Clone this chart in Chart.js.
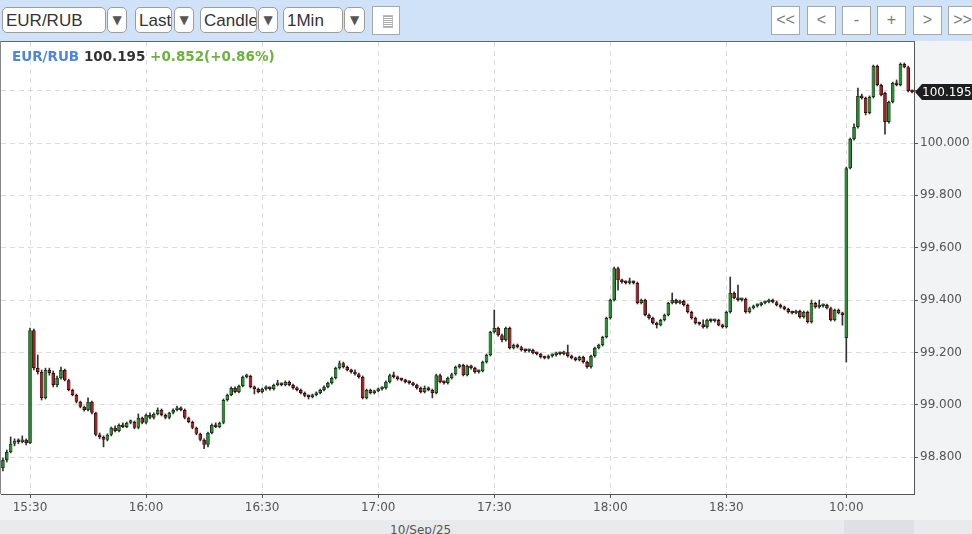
<!DOCTYPE html>
<html>
<head>
<meta charset="utf-8">
<script src="https://cdn.jsdelivr.net/npm/chart.js@4"></script>
<style>
  body { margin: 0; width: 972px; height: 534px; overflow: hidden; background: #f2f3f5; position: relative; font-family: "DejaVu Sans", sans-serif; }
  #toolbar { position: absolute; left: 0; top: 0; width: 972px; height: 41px; background: #d0e2f7; }
  .sel { position: absolute; top: 7px; height: 26px; box-sizing: border-box; border: 1px solid #9c9c9c; border-radius: 5px; background: #fff; font: 17px "Liberation Sans", Arial, sans-serif; line-height: 25px; padding-left: 3px; color: #333; overflow: hidden; white-space: nowrap; }
  .dd { position: absolute; top: 7px; height: 26px; box-sizing: border-box; border: 1px solid #9c9c9c; border-radius: 5px; background: #fff; font-size: 12px; line-height: 25px; text-align: center; color: #555; }
  .btn { position: absolute; top: 6px; width: 29px; height: 29px; box-sizing: border-box; border: 1px solid #a8a8a8; background: #fff; font: 16px "Liberation Sans", Arial, sans-serif; line-height: 26px; text-align: center; color: #777; }
  .icon { position: absolute; left: 10px; top: 8px; width: 8px; height: 11px; background: repeating-linear-gradient(#aaa 0 1px, transparent 1px 2px); border: 1px solid #bbb; }
  #topLine { position: absolute; left: 0; top: 41px; width: 915px; height: 1px; background: #666; }
  #leftLine { position: absolute; left: 0; top: 41px; width: 1px; height: 453px; background: #888; }
  #chart { position: absolute; left: 1px; top: 42px; }
  #title { position: absolute; left: 12px; top: 48px; font: bold 13.5px "DejaVu Sans", sans-serif; line-height: 16px; white-space: nowrap; }
  #bottomStrip { position: absolute; left: 0; top: 520px; width: 972px; height: 14px; background: #e9eaec; }
  #thumb { position: absolute; left: 844px; top: 520px; width: 70px; height: 14px; background: #dfe0e3; }
  #dateLabel { position: absolute; left: 390px; top: 523px; font: 12px "DejaVu Sans", sans-serif; color: #555; }
</style>
</head>
<body>
<div id="toolbar">
  <div class="sel" style="left:2px;width:104px">EUR/RUB</div>
  <div class="dd" style="left:107px;width:20px">▼</div>
  <div class="sel" style="left:135px;width:37px">Last</div>
  <div class="dd" style="left:174px;width:20px">▼</div>
  <div class="sel" style="left:200px;width:57px">Candle</div>
  <div class="dd" style="left:258px;width:20px">▼</div>
  <div class="sel" style="left:283px;width:60px">1Min</div>
  <div class="dd" style="left:344px;width:21px">▼</div>
  <div class="btn" style="left:372px;width:28px"><div class="icon"></div></div>
  <div class="btn" style="left:771px">&lt;&lt;</div>
  <div class="btn" style="left:807px">&lt;</div>
  <div class="btn" style="left:842px">-</div>
  <div class="btn" style="left:877px">+</div>
  <div class="btn" style="left:913px">&gt;</div>
  <div class="btn" style="left:948px">&gt;&gt;</div>
</div>
<div id="bottomStrip"></div>
<div id="thumb"></div>
<div id="dateLabel">10/Sep/25</div>
<canvas id="chart" width="971" height="478" style="width:971px;height:478px"></canvas>
<div id="topLine"></div>
<div id="leftLine"></div>
<div id="title"><span style="color:#4f86d9">EUR/RUB</span> <span style="color:#333">100.195</span> <span style="color:#6cb33e">+0.852(+0.86%)</span></div>

<script>
// 1-minute sessions shown on the chart (start time, number of candles)
const sessions = [
  { start: "15:23", count: 218 },
  { start: "10:00", count: 18 }
];

// Times that get a label on the x axis
const xTickLabels = ["15:30", "16:00", "16:30", "17:00", "17:30", "18:00", "18:30", "10:00"];

// Price levels on the right axis
const yTickValues = [98.8, 99.0, 99.2, 99.4, 99.6, 99.8, 100.0, 100.2];

// OHLC values, one per minute
const opens = [
  98.758, 98.789, 98.819, 98.851, 98.862, 98.858, 98.866, 98.854, 99.285, 99.140,
  99.125, 99.026, 99.133, 99.121, 99.075, 99.102, 99.133, 99.094, 99.056, 99.037,
  99.011, 98.992, 98.980, 99.011, 98.969, 98.885, 98.877, 98.866, 98.885, 98.912,
  98.900, 98.923, 98.915, 98.931, 98.934, 98.912, 98.950, 98.931, 98.961, 98.950,
  98.965, 98.980, 98.961, 98.950, 98.969, 98.980, 98.988, 98.980, 98.950, 98.934,
  98.912, 98.889, 98.866, 98.847, 98.892, 98.923, 98.915, 98.931, 99.018, 99.037,
  99.064, 99.049, 99.072, 99.106, 99.110, 99.068, 99.060, 99.049, 99.060, 99.064,
  99.060, 99.075, 99.079, 99.075, 99.087, 99.075, 99.064, 99.056, 99.045, 99.034,
  99.030, 99.037, 99.045, 99.056, 99.068, 99.083, 99.102, 99.140, 99.159, 99.144,
  99.133, 99.125, 99.117, 99.106, 99.026, 99.056, 99.045, 99.053, 99.060, 99.064,
  99.087, 99.113, 99.106, 99.098, 99.094, 99.087, 99.083, 99.075, 99.064, 99.049,
  99.064, 99.056, 99.045, 99.113, 99.087, 99.083, 99.102, 99.117, 99.144, 99.152,
  99.113, 99.148, 99.140, 99.125, 99.129, 99.163, 99.190, 99.278, 99.293, 99.266,
  99.247, 99.293, 99.217, 99.228, 99.220, 99.209, 99.205, 99.209, 99.197, 99.194,
  99.182, 99.178, 99.186, 99.190, 99.197, 99.194, 99.201, 99.186, 99.178, 99.171,
  99.182, 99.163, 99.144, 99.186, 99.217, 99.228, 99.259, 99.331, 99.400, 99.522,
  99.476, 99.469, 99.465, 99.469, 99.465, 99.389, 99.400, 99.343, 99.331, 99.312,
  99.304, 99.324, 99.343, 99.389, 99.400, 99.389, 99.396, 99.381, 99.354, 99.331,
  99.312, 99.308, 99.297, 99.324, 99.320, 99.324, 99.304, 99.297, 99.354, 99.427,
  99.408, 99.400, 99.404, 99.354, 99.369, 99.377, 99.381, 99.389, 99.392, 99.400,
  99.392, 99.381, 99.373, 99.366, 99.354, 99.350, 99.358, 99.335, 99.354, 99.316,
  99.389, 99.373, 99.377, 99.381, 99.369, 99.324, 99.362, 99.350, 99.255, 99.904,
  100.015, 100.061, 100.180, 100.172, 100.115, 100.176, 100.294, 100.222, 100.191, 100.080,
  100.157, 100.229, 100.222, 100.302, 100.290, 100.199
];

const highs = [
  98.796, 98.827, 98.877, 98.870, 98.870, 98.881, 98.870, 99.293, 99.289, 99.190,
  99.133, 99.140, 99.140, 99.129, 99.110, 99.144, 99.136, 99.098, 99.060, 99.041,
  99.014, 98.995, 99.026, 99.014, 98.972, 98.892, 98.881, 98.889, 98.915, 98.919,
  98.927, 98.931, 98.934, 98.942, 98.938, 98.965, 98.953, 98.965, 98.969, 98.969,
  98.988, 98.984, 98.965, 98.972, 98.984, 98.995, 98.992, 98.984, 98.953, 98.938,
  98.915, 98.892, 98.870, 98.896, 98.927, 98.931, 98.934, 99.022, 99.041, 99.068,
  99.068, 99.075, 99.110, 99.117, 99.113, 99.072, 99.064, 99.064, 99.072, 99.068,
  99.079, 99.094, 99.083, 99.091, 99.091, 99.079, 99.068, 99.060, 99.049, 99.037,
  99.041, 99.049, 99.060, 99.072, 99.087, 99.106, 99.144, 99.167, 99.163, 99.148,
  99.136, 99.133, 99.121, 99.110, 99.060, 99.060, 99.056, 99.064, 99.068, 99.091,
  99.117, 99.125, 99.110, 99.102, 99.098, 99.091, 99.087, 99.079, 99.068, 99.072,
  99.068, 99.060, 99.117, 99.117, 99.091, 99.106, 99.121, 99.148, 99.155, 99.155,
  99.152, 99.152, 99.144, 99.133, 99.167, 99.194, 99.281, 99.362, 99.297, 99.270,
  99.297, 99.297, 99.232, 99.232, 99.224, 99.213, 99.213, 99.213, 99.201, 99.197,
  99.186, 99.190, 99.194, 99.201, 99.201, 99.205, 99.228, 99.190, 99.182, 99.186,
  99.186, 99.167, 99.190, 99.220, 99.232, 99.262, 99.335, 99.404, 99.526, 99.526,
  99.480, 99.473, 99.484, 99.473, 99.469, 99.404, 99.404, 99.347, 99.335, 99.316,
  99.327, 99.347, 99.392, 99.427, 99.404, 99.400, 99.400, 99.385, 99.358, 99.335,
  99.316, 99.324, 99.327, 99.327, 99.327, 99.327, 99.308, 99.358, 99.488, 99.431,
  99.457, 99.408, 99.408, 99.373, 99.381, 99.385, 99.392, 99.396, 99.404, 99.404,
  99.396, 99.385, 99.377, 99.369, 99.358, 99.362, 99.362, 99.358, 99.358, 99.400,
  99.392, 99.400, 99.385, 99.385, 99.373, 99.366, 99.366, 99.354, 99.908, 100.019,
  100.073, 100.210, 100.187, 100.176, 100.180, 100.298, 100.298, 100.225, 100.195, 100.160,
  100.233, 100.241, 100.306, 100.306, 100.294, 100.202
];

const lows = [
  98.747, 98.781, 98.816, 98.843, 98.851, 98.854, 98.847, 98.851, 99.133, 99.117,
  99.018, 99.022, 99.113, 99.068, 99.068, 99.098, 99.091, 99.053, 99.034, 99.007,
  98.988, 98.976, 98.976, 98.965, 98.881, 98.870, 98.839, 98.862, 98.881, 98.896,
  98.896, 98.912, 98.912, 98.927, 98.908, 98.908, 98.927, 98.927, 98.946, 98.946,
  98.961, 98.957, 98.946, 98.946, 98.965, 98.976, 98.976, 98.946, 98.931, 98.908,
  98.885, 98.862, 98.832, 98.839, 98.889, 98.912, 98.912, 98.927, 99.014, 99.034,
  99.045, 99.045, 99.068, 99.102, 99.064, 99.041, 99.045, 99.045, 99.056, 99.056,
  99.056, 99.072, 99.072, 99.072, 99.072, 99.060, 99.053, 99.041, 99.030, 99.022,
  99.026, 99.034, 99.041, 99.053, 99.064, 99.079, 99.098, 99.136, 99.140, 99.129,
  99.121, 99.113, 99.102, 99.022, 99.022, 99.041, 99.041, 99.049, 99.056, 99.060,
  99.083, 99.102, 99.094, 99.091, 99.083, 99.079, 99.072, 99.060, 99.045, 99.045,
  99.053, 99.026, 99.041, 99.083, 99.079, 99.079, 99.098, 99.113, 99.140, 99.110,
  99.110, 99.136, 99.121, 99.121, 99.125, 99.159, 99.186, 99.274, 99.262, 99.240,
  99.243, 99.213, 99.213, 99.217, 99.205, 99.201, 99.201, 99.194, 99.190, 99.178,
  99.175, 99.175, 99.182, 99.186, 99.190, 99.190, 99.182, 99.175, 99.167, 99.167,
  99.159, 99.140, 99.140, 99.182, 99.213, 99.224, 99.255, 99.327, 99.396, 99.438,
  99.465, 99.461, 99.461, 99.461, 99.385, 99.385, 99.339, 99.327, 99.308, 99.293,
  99.301, 99.320, 99.339, 99.385, 99.385, 99.385, 99.377, 99.350, 99.327, 99.308,
  99.304, 99.293, 99.293, 99.316, 99.316, 99.301, 99.293, 99.293, 99.350, 99.404,
  99.396, 99.396, 99.350, 99.350, 99.366, 99.373, 99.377, 99.385, 99.389, 99.389,
  99.377, 99.369, 99.362, 99.350, 99.347, 99.347, 99.331, 99.331, 99.312, 99.312,
  99.369, 99.369, 99.373, 99.366, 99.320, 99.320, 99.347, 99.304, 99.163, 99.901,
  100.011, 100.057, 100.168, 100.107, 100.111, 100.172, 100.218, 100.180, 100.034, 100.076,
  100.153, 100.218, 100.218, 100.287, 100.195, 100.191
];

const closes = [
  98.789, 98.819, 98.851, 98.862, 98.858, 98.866, 98.854, 99.285, 99.140, 99.125,
  99.026, 99.133, 99.121, 99.075, 99.102, 99.133, 99.094, 99.056, 99.037, 99.011,
  98.992, 98.980, 99.011, 98.969, 98.885, 98.877, 98.866, 98.885, 98.912, 98.900,
  98.923, 98.915, 98.931, 98.934, 98.912, 98.950, 98.931, 98.961, 98.950, 98.965,
  98.980, 98.961, 98.950, 98.969, 98.980, 98.988, 98.980, 98.950, 98.934, 98.912,
  98.889, 98.866, 98.847, 98.892, 98.923, 98.915, 98.931, 99.018, 99.037, 99.064,
  99.049, 99.072, 99.106, 99.110, 99.068, 99.060, 99.049, 99.060, 99.064, 99.060,
  99.075, 99.079, 99.075, 99.087, 99.075, 99.064, 99.056, 99.045, 99.034, 99.030,
  99.037, 99.045, 99.056, 99.068, 99.083, 99.102, 99.140, 99.159, 99.144, 99.133,
  99.125, 99.117, 99.106, 99.026, 99.056, 99.045, 99.053, 99.060, 99.064, 99.087,
  99.113, 99.106, 99.098, 99.094, 99.087, 99.083, 99.075, 99.064, 99.049, 99.064,
  99.056, 99.045, 99.113, 99.087, 99.083, 99.102, 99.117, 99.144, 99.152, 99.113,
  99.148, 99.140, 99.125, 99.129, 99.163, 99.190, 99.278, 99.293, 99.266, 99.247,
  99.293, 99.217, 99.228, 99.220, 99.209, 99.205, 99.209, 99.197, 99.194, 99.182,
  99.178, 99.186, 99.190, 99.197, 99.194, 99.201, 99.186, 99.178, 99.171, 99.182,
  99.163, 99.144, 99.186, 99.217, 99.228, 99.259, 99.331, 99.400, 99.522, 99.476,
  99.469, 99.465, 99.469, 99.465, 99.389, 99.400, 99.343, 99.331, 99.312, 99.304,
  99.324, 99.343, 99.389, 99.400, 99.389, 99.396, 99.381, 99.354, 99.331, 99.312,
  99.308, 99.297, 99.324, 99.320, 99.324, 99.304, 99.297, 99.354, 99.427, 99.408,
  99.400, 99.404, 99.354, 99.369, 99.377, 99.381, 99.389, 99.392, 99.400, 99.392,
  99.381, 99.373, 99.366, 99.354, 99.350, 99.358, 99.335, 99.354, 99.316, 99.389,
  99.373, 99.377, 99.381, 99.369, 99.324, 99.362, 99.350, 99.343, 99.904, 100.015,
  100.061, 100.180, 100.172, 100.115, 100.176, 100.294, 100.222, 100.183, 100.080, 100.157,
  100.229, 100.222, 100.302, 100.290, 100.199, 100.195
];

// Build the minute labels from the sessions
let times = [];
sessions.forEach(function (s) {
  let [h, m] = s.start.split(":").map(Number);
  for (let i = 0; i < s.count; i++) {
    times.push(String(h).padStart(2, "0") + ":" + String(m).padStart(2, "0"));
    m++;
    if (m === 60) { m = 0; h++; }
  }
});

const upColor = "#23912a";
const downColor = "#a81c1c";

// White plot area behind the candles
const plotBackground = {
  id: "plotBackground",
  beforeDraw(chart) {
    const a = chart.chartArea;
    chart.ctx.save();
    chart.ctx.fillStyle = "#ffffff";
    chart.ctx.fillRect(a.left, a.top, a.right - a.left, a.bottom - a.top);
    chart.ctx.restore();
  }
};

// Black tag with the last price on the right axis
const lastPriceTag = {
  id: "lastPriceTag",
  afterDraw(chart) {
    const ctx = chart.ctx;
    const last = closes[closes.length - 1];
    const y = Math.round(chart.scales.y.getPixelForValue(last));
    const x = chart.chartArea.right + 1;
    const w = chart.width;
    ctx.save();
    ctx.fillStyle = "#1e1e1e";
    ctx.beginPath();
    ctx.moveTo(x, y);
    ctx.lineTo(x + 7, y - 8);
    ctx.lineTo(w, y - 8);
    ctx.lineTo(w, y + 8);
    ctx.lineTo(x + 7, y + 8);
    ctx.closePath();
    ctx.fill();
    ctx.fillStyle = "#ffffff";
    ctx.font = "12px 'DejaVu Sans'";
    ctx.textBaseline = "middle";
    ctx.fillText(last.toFixed(3), x + 7, y + 1);
    ctx.restore();
  }
};

const ctx = document.getElementById("chart").getContext("2d");

new Chart(ctx, {
  type: "bar",
  data: {
    labels: times,
    datasets: [
      {
        label: "body",
        data: opens.map((o, i) => [o, closes[i]]),
        backgroundColor: opens.map((o, i) => (closes[i] >= o ? upColor : downColor)),
        borderColor: opens.map((o, i) => (closes[i] >= o ? "#143d18" : "#3a0b0b")),
        borderWidth: 1,
        borderSkipped: false,
        barPercentage: 0.95,
        categoryPercentage: 1,
        minBarLength: 2.5,
        grouped: false,
        order: 0
      },
      {
        label: "wick",
        data: lows.map((l, i) => [l, highs[i]]),
        backgroundColor: "#333333",
        borderWidth: 0,
        barThickness: 1,
        grouped: false,
        order: 1
      }
    ]
  },
  options: {
    responsive: false,
    animation: false,
    devicePixelRatio: 1,
    layout: { padding: 0 },
    plugins: {
      legend: { display: false },
      tooltip: { enabled: false }
    },
    scales: {
      x: {
        type: "category",
        offset: true,
        grid: {
          offset: false,
          color: "#dcdcdc",
          tickColor: "#555",
          tickLength: 4,
          tickBorderDash: []
        },
        border: { color: "#555", width: 1, dash: [5, 4] },
        ticks: {
          autoSkip: false,
          maxRotation: 0,
          padding: 3,
          color: "#555",
          font: { family: "DejaVu Sans", size: 12 }
        },
        afterBuildTicks(scale) {
          scale.ticks = scale.ticks.filter(t => xTickLabels.includes(times[t.value]));
        },
        afterFit(scale) {
          scale.height = 26;
          scale.paddingLeft = 0;
          scale.paddingRight = 0;
        }
      },
      y: {
        position: "right",
        min: 98.659,
        max: 100.386,
        grid: {
          color: "#dcdcdc",
          tickColor: "#555",
          tickLength: 4,
          tickBorderDash: []
        },
        border: { color: "#555", width: 1, dash: [5, 4] },
        ticks: {
          padding: 2,
          color: "#555",
          font: { family: "DejaVu Sans", size: 12 },
          callback: v => Number(v).toFixed(3)
        },
        afterBuildTicks(scale) {
          scale.ticks = yTickValues.map(v => ({ value: v }));
        },
        afterFit(scale) {
          scale.width = 58;
          scale.paddingTop = 0;
          scale.paddingBottom = 0;
        }
      }
    }
  },
  plugins: [plotBackground, lastPriceTag]
});
</script>
</body>
</html>
